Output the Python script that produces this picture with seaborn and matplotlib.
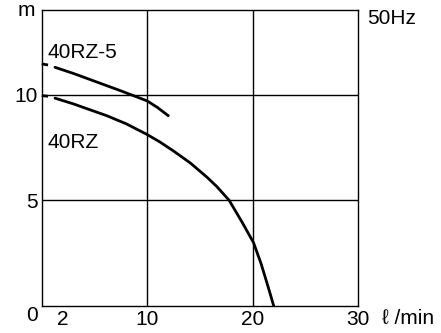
import pandas as pd
import matplotlib
matplotlib.use('Agg')
import matplotlib.pyplot as plt
import seaborn as sns

# 数据：流量 (ℓ/min) 与 扬程 (m)
rz5_q = [1.26, 3.0, 6.17, 7.43, 10.0, 11.0, 12.0]
rz5_h = [11.29, 11.0, 10.42, 10.19, 9.7, 9.38, 9.0]
rz_q = [1.26, 3.0, 6.17, 8.0, 9.96, 11.2, 12.5, 14.1, 15.65, 16.6, 17.77, 18.98, 20.08, 20.8, 21.44, 22.0]
rz_h = [9.83, 9.56, 9.0, 8.62, 8.12, 7.76, 7.33, 6.76, 6.1, 5.65, 5.0, 3.98, 3.0, 2.0, 0.95, 0.0]
# 起点处的短虚线
lead_q = [0.0, 0.6]
rz5_lead_h = [11.45, 11.4]
rz_lead_h = [9.95, 9.92]

x_ticks = [2, 10, 20, 30]
y_ticks = [0, 5, 10]

sns.set_theme(style='white')
plt.rcParams['font.family'] = ['Liberation Sans', 'DejaVu Sans']
plt.rcParams['text.color'] = 'black'
plt.rcParams['lines.solid_joinstyle'] = 'round'

fig = plt.figure(figsize=(4.41, 3.33), dpi=100)
ax = fig.add_axes([0.0946, 0.081, 0.7175, 0.889])

df_rz5 = pd.DataFrame({'q': rz5_q, 'h': rz5_h})
df_rz = pd.DataFrame({'q': rz_q, 'h': rz_h})
sns.lineplot(data=df_rz5, x='q', y='h', ax=ax, color='black', lw=2.0, sort=False)
sns.lineplot(data=df_rz, x='q', y='h', ax=ax, color='black', lw=2.0, sort=False)
ax.plot(lead_q, rz5_lead_h, color='black', lw=2.0, clip_on=False, solid_capstyle='butt')
ax.plot(lead_q, rz_lead_h, color='black', lw=2.0, clip_on=False, solid_capstyle='butt')

ax.set_xlim(0, 30)
ax.set_ylim(0, 14)
for v in [10, 20]:
    ax.axvline(v, color='black', lw=1.0, zorder=0)
for v in [5, 10]:
    ax.axhline(v, color='black', lw=1.0, zorder=0)
for s in ax.spines.values():
    s.set_color('black')
    s.set_linewidth(1.0)

fs = 15
ax.set_xticks(x_ticks)
ax.set_xticklabels([str(t) for t in x_ticks], fontsize=fs)
ax.set_yticks(y_ticks)
ax.set_yticklabels([str(t) for t in y_ticks], fontsize=fs)
ax.tick_params(length=0, pad=3, colors='black')
ax.get_yticklabels()[0].set_verticalalignment('top')
ax.set_xlabel('')
ax.set_ylabel('')
ax.grid(False)

ax.text(0.55, 11.55, '40RZ-5', fontsize=fs, va='bottom', ha='left')
ax.text(0.55, 7.3, '40RZ', fontsize=fs, va='bottom', ha='left')
fig.text(26 / 441, 1 - 11 / 333, 'm', fontsize=fs, ha='center', va='center')
fig.text(367 / 441, 1 - 18 / 333, '50Hz', fontsize=fs, ha='left', va='center')
fig.text(382 / 441, 1 - 318 / 333, 'ℓ /min', fontsize=fs, ha='left', va='center')

fig.savefig('out.png', dpi=100)
